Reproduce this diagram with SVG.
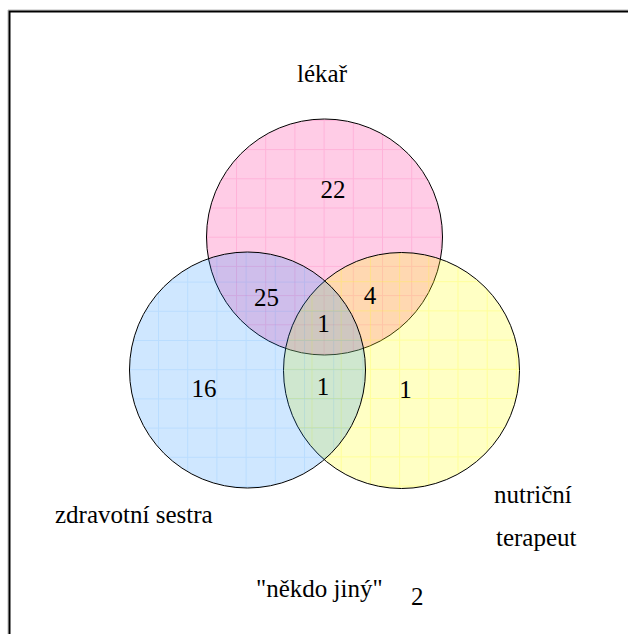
<svg xmlns="http://www.w3.org/2000/svg" width="628" height="634" viewBox="0 0 628 634">
<style>
text{font-family:"Liberation Serif","Times New Roman",serif;font-size:25px;fill:#000}
.c{text-anchor:middle}
.set{stroke:#000;stroke-width:1}
</style>
<defs>
<pattern id="pPink" patternUnits="userSpaceOnUse" x="2.4" y="3.1" width="29.2" height="29.2">
<rect width="29.2" height="29.2" fill="rgb(255,0,128)" fill-opacity="0.2"/>
<path d="M0.5,0V29.2M0,0.5H29.2" stroke="rgb(255,0,128)" stroke-opacity="0.12" stroke-width="1" fill="none"/>
</pattern>
<pattern id="pBlue" patternUnits="userSpaceOnUse" x="12" y="18.8" width="29.2" height="29.2">
<rect width="29.2" height="29.2" fill="rgb(0,128,255)" fill-opacity="0.19"/>
<path d="M0.5,0V29.2M0,0.5H29.2" stroke="rgb(0,128,255)" stroke-opacity="0.1" stroke-width="1" fill="none"/>
</pattern>
<pattern id="pYellow" patternUnits="userSpaceOnUse" x="19.5" y="18.4" width="29.2" height="29.2">
<rect width="29.2" height="29.2" fill="rgb(255,255,0)" fill-opacity="0.23"/>
<path d="M0.5,0V29.2M0,0.5H29.2" stroke="rgb(255,255,0)" stroke-opacity="0.22" stroke-width="1" fill="none"/>
</pattern>
</defs>
<rect width="628" height="634" fill="#fff"/>
<path d="M8,634V10H628" fill="none" stroke="#bbb" stroke-width="1"/>
<path d="M9.5,634V11.5H628" fill="none" stroke="#000" stroke-width="2"/>
<g id="set-lekar">
<circle class="set" cx="324.5" cy="237" r="118" fill="url(#pPink)"/>
<text class="c" x="322" y="82">lékař</text>
</g>
<g id="set-terapeut">
<circle class="set" cx="401.5" cy="370.5" r="118" fill="url(#pYellow)"/>
<text x="494" y="503">nutriční</text>
<text x="496" y="546">terapeut</text>
</g>
<g id="set-sestra">
<circle class="set" cx="247.5" cy="370" r="118" fill="url(#pBlue)"/>
<text x="55" y="523">zdravotní sestra</text>
</g>
<g id="counts">
<text class="c" x="333" y="198">22</text>
<text class="c" x="266.5" y="306">25</text>
<text class="c" x="370" y="303.5">4</text>
<text class="c" x="323.5" y="332">1</text>
<text class="c" x="204" y="397">16</text>
<text class="c" x="323" y="394.5">1</text>
<text class="c" x="405.5" y="398">1</text>
</g>
<g id="other">
<text x="256" y="597">"někdo jiný"</text>
<text x="411" y="605">2</text>
</g>
</svg>
